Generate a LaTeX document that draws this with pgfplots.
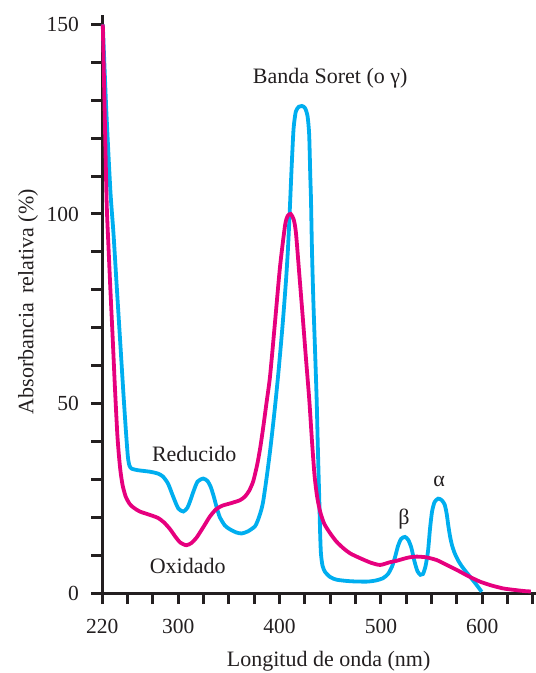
\documentclass[border=0pt]{standalone}
\usepackage{fontspec}
\setmainfont{Liberation Serif}
\usepackage{pgfplots}
\pgfplotsset{compat=1.18}
\definecolor{cblue}{RGB}{0,174,239}
\definecolor{cmag}{RGB}{230,0,126}
\definecolor{axc}{RGB}{35,31,32}
\begin{document}
\begin{tikzpicture}
\path[use as bounding box] (-102.3pt,-80pt) rectangle (433.7pt,593pt);
\begin{axis}[
  scale only axis, width=433.6pt, height=578pt,
  xmin=225, xmax=653, ymin=0, ymax=152.5,
  axis x line*=bottom, axis y line*=left,
  axis line style={-, line width=3pt, color=axc},
  every outer x axis line/.append style={-, line width=3pt, color=axc},
  every outer y axis line/.append style={-, line width=3pt, color=axc},
  tick style={line width=3pt, color=axc},
  major tick style={line width=3pt, color=axc},
  tick align=outside, major tick length=11pt,
  xtick={225,250,...,650},
  xticklabels={220,,,300,,,,400,,,,500,,,,600,,},
  ytick={0,10,...,150},
  yticklabels={0,,,,,50,,,,,100,,,,,150},
  /pgf/number format/assume math mode=true,
  tick label style={font=\fontsize{21.5}{25}\selectfont, text=axc},
  xticklabel style={yshift=-12pt},
  yticklabel style={xshift=-9pt},
  label style={font=\fontsize{22}{26}\selectfont, text=axc},
  xlabel={Longitud de onda (nm)},
  ylabel={Absorbancia\, relativa (\%)},
  xlabel style={at={(axis description cs:0.522,0)}, anchor=base, yshift=-73.7pt},
  ylabel style={at={(axis description cs:-0.171,0.504)}, anchor=center, rotate=0},
  clip=false,
]
% Reducido (blue)
\addplot[cblue, line width=3.8pt, smooth, tension=0.4] coordinates {
(225.5,150) (229,127) (233,106) (236,95) (239,82) (242.5,67) (246,52) (248.5,42)
(250.3,35.8) (251.8,33.6) (254,32.8) (260,32.4) (272,32) (280,31.5) (285,30.7)
(290,28.8) (295,25.4) (300,22.3) (305,21.5) (309,22.5) (312,24.5) (315,26.8)
(319,29.4) (324.7,30.2) (329,29.5) (332,28) (335,25.5) (338,22.5) (341,20)
(346,17.8) (351,16.8) (357,16) (362.6,15.7) (369,16.3) (375.7,17.6) (379,19.5)
(382,22) (384,24.5) (387.5,31) (390.7,37.7) (393.6,44.5) (396.2,51) (398.6,57.5)
(400.8,64) (402.9,70.5) (404.9,77.3) (406.6,83.5) (408.1,90) (409.4,97) (410.5,103.7)
(412,113) (413.8,122.5) (416,127) (419,128.3)
(422,128.5) (425,128) (427.5,126) (429.2,121) (430.3,110) (431,103.7) (432,90)
(433.3,77.3) (435,64) (436.6,51) (437.8,38) (439.2,24.5) (440,16) (440.8,10.5)
(442.3,7.3) (444.8,5.6) (450,4.2) (456.4,3.5) (470,3.1) (486,3.0) (495,3.3)
(502,3.9) (507,5) (511,7) (514,9.5) (517,12.5) (520,14.3) (523.8,14.8) (527,14)
(530,12) (533,8.5) (536,5.8) (539,4.8) (541.5,5) (544,7) (546.5,11) (548.5,17)
(550.5,21.5) (553,24) (556.5,24.9) (560,24.5) (563,23.3) (565,20.8) (566.7,17.5)
(568.5,14.6) (570.5,12.3) (573,10.4) (576,8.7) (580,7) (584,5.6) (588,4.3)
(594,2.3) (599.5,0.3)
};
% Oxidado (magenta)
\addplot[cmag, line width=3.8pt, smooth, tension=0.4] coordinates {
(225.5,150) (227.5,125) (229.3,103) (231,92) (233,80) (235.3,67) (237.5,54)
(239.8,42) (241.5,36) (243,32) (245,28.5) (248,25.5) (252,23.5) (256,22.5)
(262,21.5) (272,20.6) (280,19.8) (286,18.6) (292,16.8) (297,14.9) (302,13.3)
(308,12.6) (313,13.2) (318,14.6) (325,17.5) (331,20.1) (337,22) (343,23)
(352,23.7) (361,24.5) (366,25.5) (370,27) (374,29.5) (378,34) (381,38.5)
(384,44) (387,50) (390.5,57) (395,70) (400.4,86) (405.4,97) (408,99.5) (411,100)
(414,98.5) (416.2,94.9) (419.5,84) (422.8,73) (426,62) (429.3,51) (432,40)
(434.5,31) (437,25.5) (440,21.5) (444,18.3) (449.8,15.8) (456,13.6) (463,11.8)
(470,10.4) (479.4,9.2) (490,8) (499.2,7.4) (508.6,8.1) (515.6,8.5) (522,9)
(528,9.4) (535.4,9.6) (545,9.4) (555,8.7) (565,7.4) (574.8,6.1) (586,4.5)
(597.8,3) (609,2) (620.8,1.2) (632,0.8) (642,0.5) (648,0.4)
};
\node[anchor=base, text=axc, font=\fontsize{22}{26}\selectfont] at (axis cs:450,134.5) {Banda Soret (o γ)};
\node[anchor=base, text=axc, font=\fontsize{22}{26}\selectfont] at (axis cs:315.7,34.8) {Reducido};
\node[anchor=base, text=axc, font=\fontsize{22}{26}\selectfont] at (axis cs:309.3,5.2) {Oxidado};
\node[anchor=base, text=axc, font=\fontsize{22}{26}\selectfont] at (axis cs:522.8,18.2) {β};
\node[anchor=base, text=axc, font=\fontsize{22}{26}\selectfont] at (axis cs:557.4,28) {α};
\end{axis}
\end{tikzpicture}
\end{document}
